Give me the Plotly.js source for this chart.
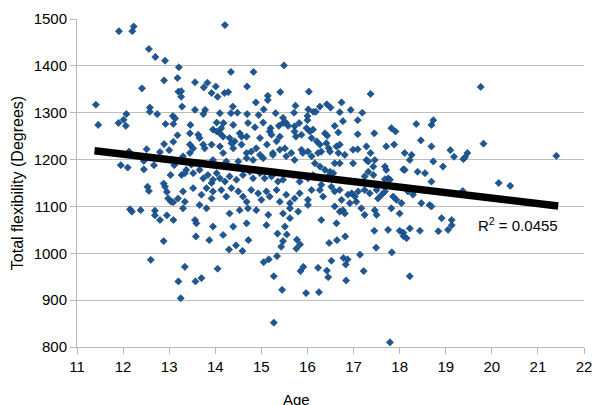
<!DOCTYPE html>
<html><head><meta charset="utf-8">
<script src="https://cdn.plot.ly/plotly-3.0.1.min.js"></script>
<style>html,body{margin:0;padding:0;background:#fff}</style>
</head><body><div id="chart" style="width:597px;height:405px"></div>
<script>
// Age of each subject
var ages = [
11.91,12.20,12.23,12.56,12.70,12.91,13.21,12.89,13.18,12.41,13.20,11.41,12.58,12.58,12.74,12.07,12.01,13.08,13.13,
14.21,15.49,14.34,14.83,13.56,13.83,13.75,14.01,13.92,14.05,14.20,14.28,14.69,14.88,15.14,15.14,15.41,16.03,13.26,13.26,13.28,13.56,13.78,13.74,14.10,14.38,14.34,14.48,14.69,14.94,15.05,15.31,15.47,15.74,15.71,16.02,16.13,16.00,16.00,
17.37,16.18,16.27,16.42,16.50,16.74,16.70,16.94,17.19,16.77,
19.76,
19.82,21.40,19.47,19.38,19.42,19.18,19.10,20.15,20.40,19.37,19.13,19.13,
12.60,12.88,13.20,13.25,
15.27,13.58,13.87,14.17,14.30,14.45,14.59,14.72,15.35,15.55,15.47,15.43,15.77,15.84,15.76,13.34,13.57,13.70,14.05,15.05,15.16,15.34,15.27,15.45,15.97,15.85,15.91,
17.79,16.47,16.64,16.82,17.45,17.49,17.83,17.14,16.78,16.87,16.83,16.52,16.23,16.42,16.45,17.22,16.84,18.22,16.25,18.00,18.08,18.08,18.15,18.44,18.84,
11.46,11.90,12.06,12.13,11.95,12.10,12.45,12.45,12.51,12.67,12.80,12.89,13.00,12.92,13.09,13.18,13.09,13.03,13.11,12.88,12.91,12.95,12.98,13.04,13.09,13.19,12.53,12.56,12.15,12.19,12.38,12.69,12.69,12.80,12.95,13.09,
13.46,14.03,14.13,14.18,14.39,14.71,14.86,15.04,15.20,15.38,15.47,15.53,15.58,15.72,15.82,15.98,16.05,16.12,
13.45,13.63,13.66,13.95,14.03,14.10,14.17,14.31,14.53,14.57,14.42,14.68,14.97,15.18,15.22,15.33,15.40,15.72,15.75,15.87,16.09,
13.45,13.52,13.74,13.77,13.92,14.10,14.17,14.35,14.39,14.57,14.68,14.78,14.89,14.97,15.12,15.25,15.40,15.51,15.65,15.87,16.01,16.09,
13.30,13.45,13.48,13.66,13.95,14.24,14.50,14.68,14.82,15.04,15.25,15.54,15.72,15.90,13.37,
13.27,13.34,13.52,13.66,13.74,13.84,13.92,13.95,14.03,14.10,14.21,14.31,14.46,14.60,14.75,14.82,14.97,15.07,15.22,15.36,15.47,15.69,15.83,16.01,16.12,
13.30,13.34,13.52,13.70,13.81,13.92,13.95,14.13,14.24,14.35,14.50,14.60,14.68,14.78,14.93,15.00,15.11,15.18,15.33,15.40,15.54,15.62,15.72,15.83,16.01,16.09,
13.30,13.66,13.81,14.31,14.53,14.71,14.89,15.15,15.47,15.62,15.80,16.01,
13.56,13.59,13.95,14.39,14.68,15.11,15.51,15.62,
16.59,17.09,18.36,18.69,18.73,16.20,16.27,16.30,16.23,16.38,16.43,16.41,16.46,16.49,16.67,16.63,16.70,16.67,16.81,17.09,16.99,17.09,
17.45,17.28,17.37,17.28,17.32,17.46,17.43,17.82,17.91,17.71,17.88,18.11,18.26,18.22,18.46,18.69,
18.73,18.55,18.39,18.08,18.11,18.69,18.94,
16.16,16.27,16.38,16.49,16.59,16.70,16.45,16.56,16.99,17.24,17.32,17.43,17.68,17.71,17.75,17.79,17.68,
16.30,16.27,16.34,16.52,16.59,16.70,16.74,16.88,16.96,17.03,17.10,16.92,17.06,17.24,17.35,17.50,17.61,17.68,17.53,17.86,17.93,18.04,18.18,18.29,18.65,18.69,18.47,18.33,
16.59,16.70,16.77,16.81,17.17,17.24,17.46,17.50,17.82,18.00,16.30,16.63,17.75,18.22,18.91,19.05
];
// Total flexibility (degrees)
var flexibility = [
1474,1474,1484,1436,1419,1411,1397,1369,1374,1352,1345,1317,1311,1302,1297,1297,1285,1293,1288,
1487,1401,1387,1387,1365,1364,1354,1356,1342,1334,1342,1344,1356,1322,1336,1327,1344,1345,1346,1334,1313,1306,1306,1297,1299,1313,1299,1300,1297,1295,1307,1299,1289,1315,1300,1307,1302,1293,1284,
1340,1302,1313,1318,1311,1322,1301,1306,1300,1282,
1355,
1234,1208,1214,1201,1205,1206,1220,1150,1144,1133,1071,1060,
986,1026,940,904,
852,1036,1028,1039,1008,1017,1005,1028,1042,1040,1026,1014,1029,1019,1010,971,940,947,967,981,987,994,951,922,915,962,971,
810,1022,1028,1036,1048,1012,1002,997,990,987,976,984,969,963,949,962,942,951,917,1048,1044,1037,1032,1048,1047,
1274,1278,1272,1217,1188,1183,1197,1179,1222,1188,1216,1233,1220,1276,1238,1252,1276,1167,1188,1149,1142,1131,1117,1110,1109,1117,1142,1133,1094,1089,1092,1091,1081,1071,1081,1071,
1274,1279,1267,1278,1274,1278,1269,1279,1267,1272,1278,1279,1272,1271,1278,1267,1260,1264,
1256,1253,1246,1264,1260,1256,1249,1246,1256,1249,1239,1249,1246,1260,1253,1239,1249,1260,1249,1253,1246,
1232,1224,1232,1224,1232,1228,1214,1235,1224,1232,1214,1217,1224,1210,1232,1214,1221,1224,1214,1221,1217,1207,
1207,1214,1189,1192,1199,1196,1196,1203,1199,1203,1210,1207,1199,1214,1178,
1167,1171,1171,1178,1160,1167,1150,1157,1171,1160,1153,1164,1157,1167,1174,1160,1171,1160,1164,1153,1157,1167,1153,1160,1167,
1132,1110,1139,1125,1139,1117,1132,1135,1121,1139,1132,1121,1110,1135,1128,1114,1132,1121,1135,1110,1125,1107,1117,1128,1114,1135,
1096,1103,1096,1085,1092,1096,1092,1082,1085,1096,1089,1103,
1071,1064,1057,1057,1064,1060,1057,1075,
1272,1284,1276,1274,1284,1239,1232,1217,1214,1256,1251,1235,1224,1217,1258,1228,1232,1214,1210,1254,1221,1222,
1256,1228,1214,1199,1196,1199,1185,1267,1260,1228,1232,1214,1210,1199,1241,1228,
1196,1171,1174,1179,1178,1153,1185,
1192,1185,1178,1174,1192,1192,1164,1171,1192,1164,1174,1167,1185,1178,1160,1157,1158,
1146,1135,1121,1142,1132,1135,1114,1125,1128,1121,1132,1107,1110,1135,1128,1135,1125,1132,1117,1121,1114,1107,1132,1125,1103,1100,1107,1135,
1100,1089,1092,1085,1096,1082,1092,1082,1096,1085,1071,1064,1050,1053,1075,1050
];
// Linear trendline endpoints
var trendAge = [11.38, 21.44];
var trendFlex = [1219, 1101];
var rSquaredLabel = "R<sup>2</sup> = 0.0455";
var xTitle = "Age";
var yTitle = "Total flexibility (Degrees)";

var font = "Liberation Sans, Arial, Helvetica, sans-serif";
var data = [
  {x: ages, y: flexibility, type: "scatter", mode: "markers",
   marker: {symbol: "diamond", size: 5.5, color: "#1C5896", line: {color: "#113C6A", width: 0.6}},
   hoverinfo: "skip", showlegend: false},
  {x: trendAge, y: trendFlex, type: "scatter", mode: "lines",
   line: {color: "#000000", width: 7.5}, showlegend: false, hoverinfo: "skip"}
];
var layout = {
  width: 597, height: 405,
  margin: {l: 77, r: 13, t: 19, b: 58},
  paper_bgcolor: "#ffffff", plot_bgcolor: "#ffffff",
  font: {family: font, size: 15, color: "#000000"},
  showlegend: false,
  xaxis: {range: [11, 22], dtick: 1, tick0: 11, showgrid: false, zeroline: false,
    showline: true, linecolor: "#B8B8B8", linewidth: 1,
    ticks: "outside", ticklen: 6, tickcolor: "#B8B8B8",
    tickfont: {family: font, size: 15, color: "#000"}},
  yaxis: {range: [800, 1500], dtick: 100, tick0: 800, showgrid: true, gridcolor: "#BEBEBE", gridwidth: 1,
    zeroline: false, showline: true, linecolor: "#B8B8B8", linewidth: 1,
    ticks: "outside", ticklen: 6, tickcolor: "#B8B8B8",
    tickfont: {family: font, size: 15, color: "#000"},
    title: {text: yTitle, font: {family: font, size: 16, color: "#000"}, standoff: 6}},
  annotations: [
    {x: 19.65, y: 1062, xref: "x", yref: "y", text: rSquaredLabel, showarrow: false,
     xanchor: "left", yanchor: "middle", font: {family: font, size: 15, color: "#000"}},
    {x: 0.432, y: -0.127, xref: "paper", yref: "paper", text: xTitle, showarrow: false,
     xanchor: "center", yanchor: "top", font: {family: font, size: 15, color: "#000"}}
  ]
};
Plotly.newPlot("chart", data, layout, {staticPlot: true, displayModeBar: false});
</script>
</body></html>
